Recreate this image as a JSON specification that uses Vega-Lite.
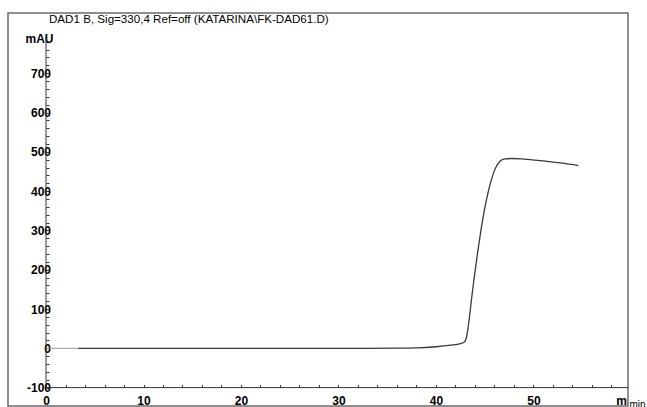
{
  "$schema": "https://vega.github.io/schema/vega-lite/v6.json",
  "width": 620,
  "height": 393,
  "autosize": {"type": "none"},
  "padding": {"left": 8, "top": 13, "right": 19, "bottom": 1},
  "background": "white",
  "config": {"view": {"stroke": "#6a6a6a", "strokeWidth": 1.5}},
  "title": {
    "text": "DAD1 B, Sig=330,4 Ref=off (KATARINA\\FK-DAD61.D)",
    "anchor": "start",
    "frame": "group",
    "offset": -13,
    "dx": 41,
    "baseline": "top",
    "font": "Liberation Sans",
    "fontSize": 11.6,
    "fontWeight": "normal",
    "color": "black"
  },
  "datasets": {
    "axes": [
      {"x": 0, "x2": 0, "y": -100, "y2": 795},
      {"x": 0, "x2": 59.7, "y": -100, "y2": -100}
    ],
    "zero": [
      {"x": 0, "x2": 3.3, "y": 0}
    ],
    "signal": [
      {"t": 3.3, "v": 0},
      {"t": 10, "v": 0},
      {"t": 20, "v": 0},
      {"t": 30, "v": 0},
      {"t": 36, "v": 0.3},
      {"t": 38, "v": 1},
      {"t": 40, "v": 4},
      {"t": 41.5, "v": 8},
      {"t": 42.5, "v": 12},
      {"t": 42.9, "v": 16},
      {"t": 43.1, "v": 25},
      {"t": 43.25, "v": 45},
      {"t": 43.4, "v": 72},
      {"t": 43.6, "v": 115},
      {"t": 43.8, "v": 156},
      {"t": 44.0, "v": 194},
      {"t": 44.3, "v": 248},
      {"t": 44.6, "v": 298},
      {"t": 44.9, "v": 342},
      {"t": 45.2, "v": 380},
      {"t": 45.5, "v": 412},
      {"t": 45.8, "v": 438},
      {"t": 46.1, "v": 458},
      {"t": 46.4, "v": 471},
      {"t": 46.7, "v": 478.5},
      {"t": 47.1, "v": 482},
      {"t": 47.8, "v": 483},
      {"t": 49, "v": 481.5},
      {"t": 51, "v": 477},
      {"t": 53, "v": 471},
      {"t": 54.6, "v": 465}
    ]
  },
  "layer": [
    {
      "data": {"name": "signal"},
      "mark": {"type": "line", "color": "#3a3a3a", "strokeWidth": 1.3, "interpolate": "monotone"},
      "encoding": {
        "x": {
          "field": "t",
          "type": "quantitative",
          "scale": {"domain": [-3.9, 59.7], "nice": false, "zero": false},
          "axis": {
            "orient": "bottom",
            "offset": -18.4,
            "domain": false,
            "grid": false,
            "tickCount": 500,
            "values": [0,2,4,6,8,10,12,14,16,18,20,22,24,26,28,30,32,34,36,38,40,42,44,46,48,50,52,54,56,58,59],
            "labelExpr": "datum.value == 59 ? 'm' : (datum.value % 10 == 0 ? '' + datum.value : '')",
            "tickSize": -3,
            "tickOpacity": {"condition": {"test": "datum.value == 59", "value": 0}, "value": 1},
            "tickColor": "#333333",
            "labelPadding": 11,
            "labelFont": "Liberation Sans",
            "labelFontSize": 12,
            "labelFontWeight": "bold",
            "labelColor": "black",
            "labelFlush": false,
            "labelOverlap": false,
            "labelBound": false,
            "title": "min",
            "titleFont": "Liberation Sans",
            "titleFontSize": 10,
            "titleFontWeight": "normal",
            "titleColor": "black",
            "titleX": 621,
            "titleY": 17,
            "titleAlign": "left",
            "titleBaseline": "middle"
          }
        },
        "y": {
          "field": "v",
          "type": "quantitative",
          "scale": {"domain": [-146.8, 853.2], "nice": false, "zero": false},
          "axis": {
            "orient": "left",
            "offset": -38,
            "domain": false,
            "grid": false,
            "tickCount": 500,
            "values": [-100,-80,-60,-40,-20,0,20,40,60,80,100,120,140,160,180,200,220,240,260,280,300,320,340,360,380,400,420,440,460,480,500,520,540,560,580,600,620,640,660,680,700,720,740,760,780],
            "labelExpr": "datum.value % 100 == 0 ? '' + datum.value : ''",
            "tickSize": -3,
            "tickColor": "#333333",
            "labelPadding": -1.5,
            "labelFont": "Liberation Sans",
            "labelFontSize": 12,
            "labelFontWeight": "bold",
            "labelColor": "black",
            "labelFlush": false,
            "labelOverlap": false,
            "labelBound": false,
            "title": "mAU",
            "titleFont": "Liberation Sans",
            "titleFontSize": 12,
            "titleFontWeight": "bold",
            "titleColor": "black",
            "titleAngle": 0,
            "titleX": -7,
            "titleY": 25,
            "titleAlign": "center",
            "titleBaseline": "middle"
          }
        }
      }
    },
    {
      "data": {"name": "axes"},
      "mark": {"type": "rule", "color": "#333333", "strokeWidth": 1},
      "encoding": {
        "x": {"field": "x", "type": "quantitative"},
        "x2": {"field": "x2"},
        "y": {"field": "y", "type": "quantitative"},
        "y2": {"field": "y2"}
      }
    },
    {
      "data": {"name": "zero"},
      "mark": {"type": "rule", "color": "#9a9a9a", "strokeWidth": 1},
      "encoding": {
        "x": {"field": "x", "type": "quantitative"},
        "x2": {"field": "x2"},
        "y": {"field": "y", "type": "quantitative"}
      }
    }
  ]
}
